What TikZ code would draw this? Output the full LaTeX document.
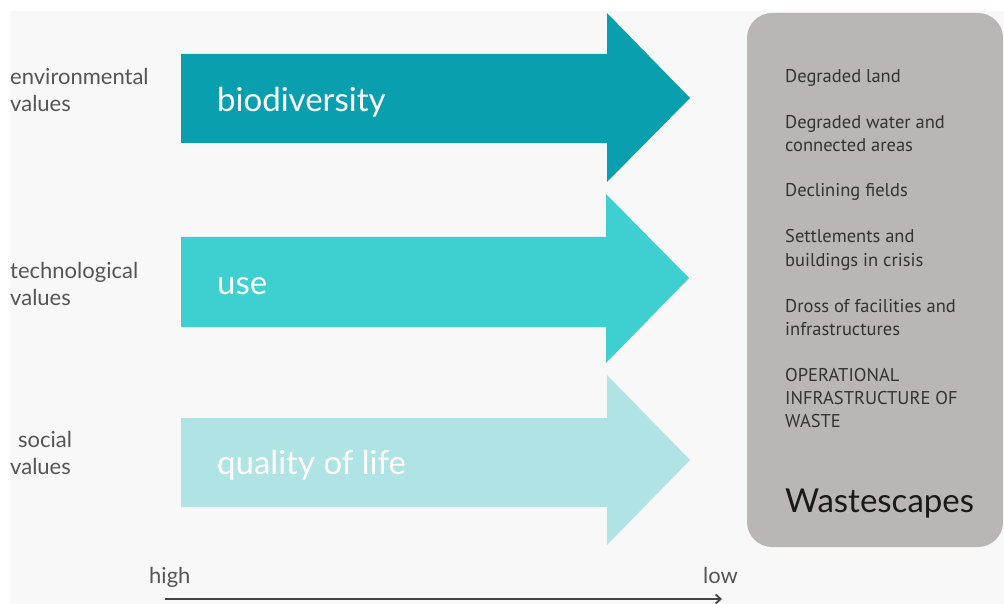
\documentclass[tikz,border=0pt]{standalone}
\usepackage{fontspec}
\setmainfont{Lato}
\newfontfamily\boxfont{PT Sans}
\usetikzlibrary{arrows.meta}
\definecolor{bgc}{HTML}{F8F8F8}
\definecolor{arrA}{HTML}{0A9FAE}
\definecolor{arrB}{HTML}{3ECFD0}
\definecolor{arrC}{HTML}{B0E3E3}
\definecolor{boxc}{HTML}{BAB6B6}
\definecolor{labc}{HTML}{555555}
\definecolor{boxtxt}{HTML}{333333}
\definecolor{axisc}{HTML}{444444}
\tikzset{
  lab/.style={anchor=base west, inner sep=0pt, text=labc, font=\fontsize{22}{26}\selectfont},
  inarr/.style={anchor=base west, inner sep=0pt, text=white, font=\fontsize{33}{39}\selectfont},
  itemtxt/.style={anchor=base west, inner sep=0pt, text=boxtxt, font=\boxfont\fontsize{18.5}{22}\selectfont}
}
\begin{document}
\begin{tikzpicture}[x=1pt,y=-1pt]
\useasboundingbox (0,0) rectangle (1004,604);
\fill[white] (0,0) rectangle (1004,604);
\fill[bgc] (10,11) rectangle (1004,604);
% big arrows
\fill[arrA] (181,54) -- (607,54) -- (607,13) -- (690,98) -- (607,182) -- (607,143) -- (181,143) -- cycle;
\fill[arrB] (181,237) -- (606,237) -- (606,194) -- (689,278) -- (606,363) -- (606,327) -- (181,327) -- cycle;
\fill[arrC] (181,418) -- (607,418) -- (607,375) -- (690,460) -- (607,545) -- (607,507) -- (181,507) -- cycle;
\node[inarr] (bio) at (217,112) {biodiversity};
\node[inarr] (use) at (217,294) {use};
\node[inarr] (qol) at (217,474) {quality of life};
% left labels
\node[lab] (env1) at (10,85) {environmental};
\node[lab] (env2) at (10,112) {values};
\node[lab] (tec1) at (10,278) {technological};
\node[lab] (tec2) at (10,305) {values};
\node[lab] (soc1) at (18,447) {social};
\node[lab] (soc2) at (10,474) {values};
% box
\fill[boxc, rounded corners=25pt] (747,13) rectangle (1003,547);
\node[itemtxt] (i1) at (785,83) {Degraded land};
\node[itemtxt] (i2a) at (785,129) {Degraded water and};
\node[itemtxt] (i2b) at (785,152) {connected areas};
\node[itemtxt] (i3) at (785,197) {Declining fields};
\node[itemtxt] (i4a) at (785,243) {Settlements and};
\node[itemtxt] (i4b) at (785,266) {buildings in crisis};
\node[itemtxt] (i5a) at (785,312) {Dross of facilities and};
\node[itemtxt] (i5b) at (785,335) {infrastructures};
\node[itemtxt] (i6a) at (785,381) {OPERATIONAL};
\node[itemtxt] (i6b) at (785,404) {INFRASTRUCTURE OF};
\node[itemtxt] (i6c) at (785,427) {WASTE};
\node[anchor=base west, inner sep=0pt, text=black!90, font=\fontsize{33}{39}\selectfont] (ws) at (785,512) {Wastescapes};
% axis
\node[lab] (high) at (149,583) {high};
\node[lab] (low) at (703,583) {low};
\coordinate (axs) at (165,599);
\coordinate (axe) at (722,599);
\draw[axisc, line width=2.6pt, -{Straight Barb[length=5pt,width=9pt,line width=1.8pt]}] (axs) -- (axe);
\end{tikzpicture}
\end{document}
